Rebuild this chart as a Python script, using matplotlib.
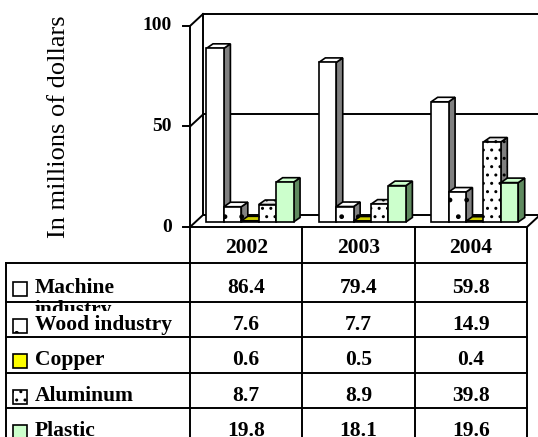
import matplotlib.pyplot as plt
from matplotlib.patches import Polygon, Rectangle
from matplotlib.transforms import Bbox, TransformedBbox

years = ['2002', '2003', '2004']
series = ['Machine industry', 'Wood industry', 'Copper', 'Aluminum', 'Plastic']
machine = [86.4, 79.4, 59.8]
wood = [7.6, 7.7, 14.9]
copper = [0.6, 0.5, 0.4]
aluminum = [8.7, 8.9, 39.8]
plastic = [19.8, 18.1, 19.6]
values = [machine, wood, copper, aluminum, plastic]
y_ticks = [0, 50, 100]

# look of each series: front, side, top, hatch
fronts = ['white', 'white', '#ffff00', 'white', '#ccffcc']
sides = ['#808080', '#808080', '#808000', '#808080', '#5f8a5f']
tops = ['white', 'white', '#cccc00', '#e6e6e6', '#ccffcc']
hatches = [None, '.', None, '..', None]

W, H = 538, 437
plt.rcParams['font.family'] = ['Liberation Serif', 'DejaVu Serif']
plt.rcParams['hatch.linewidth'] = 1.0

fig = plt.figure(figsize=(W / 100, H / 100), dpi=100)

# overlay in pixel units for the data table and labels
ov = fig.add_axes([0, 0, 1, 1])
ov.set_xlim(0, W)
ov.set_ylim(H, 0)
ov.axis('off')

# front plane of the 3-D plot
x0, x1 = 190, 527
y0, y100 = 227, 26
ax = fig.add_axes([x0 / W, (H - y0) / H, (x1 - x0) / W, (y0 - y100) / H])
ax.set_xlim(-0.5, len(years) - 0.5)
ax.set_ylim(0, 100)
ax.axis('off')

px_cat = (x1 - x0) / len(years)
px_val = (y0 - y100) / 100
# depth offsets in data units
back_dx, back_dy = 13 / px_cat, 12 / px_val
bar_dx, bar_dy = 6.5 / px_cat, 5 / px_val
side_dx, side_dy = 6.5 / px_cat, 4.5 / px_val

lk = dict(color='black', lw=1.4, clip_on=False, solid_capstyle='projecting')
xa, xb = -0.5, len(years) - 0.5

# back wall, gridline and floor
ax.plot([xa + back_dx, xb + back_dx + 0.2], [100 + back_dy] * 2, **lk)
ax.plot([xa + back_dx, xb + back_dx + 0.2], [50 + back_dy] * 2, **lk)
ax.plot([xa + back_dx, xb + back_dx + 0.2], [back_dy] * 2, **lk)
ax.plot([xa + back_dx] * 2, [back_dy, 100 + back_dy], **lk)
for t in y_ticks:
    ax.plot([xa, xa + back_dx], [t, t + back_dy], **lk)
ax.plot([xb, xb + back_dx], [0, back_dy], **lk)

# 3-D bars, left to right so each front covers the previous side
n = len(series)
bw = 0.155
g0 = -0.411
z = 3
for j in range(len(years)):
    for i in range(n):
        v = values[i][j]
        left = j + g0 + i * bw + bar_dx
        right = left + bw
        base = bar_dy
        top = base + v
        side = Polygon([(right, base), (right + side_dx, base + side_dy),
                        (right + side_dx, top + side_dy), (right, top)],
                       closed=True, facecolor=sides[i], edgecolor='black',
                       lw=1.2, hatch=hatches[i], zorder=z, clip_on=False)
        lid = Polygon([(left, top), (left + side_dx, top + side_dy),
                       (right + side_dx, top + side_dy), (right, top)],
                      closed=True, facecolor=tops[i], edgecolor='black',
                      lw=1.2, hatch=hatches[i], zorder=z, clip_on=False)
        ax.add_patch(side)
        ax.add_patch(lid)
        ax.bar(left, v, width=bw, bottom=base, align='edge',
               color=fronts[i], edgecolor='black', lw=1.2,
               hatch=hatches[i], zorder=z + 1, clip_on=False)
        z += 2

# front value axis with ticks
ax.plot([xa, xa], [0, 100], **lk)
for t in y_ticks:
    ax.plot([xa - 7 / px_cat, xa], [t, t], **lk)
    ax.text(xa - 18 / px_cat, t, str(t), ha='right', va='center',
            fontsize=14, fontweight='bold', clip_on=False)
ax.text(-0.5 - 131 / px_cat, 50, 'In millions of dollars', rotation=90,
        ha='center', va='center', fontsize=19, clip_on=False)

# data table
col_edges = [x0 + k * px_cat for k in range(len(years) + 1)]
row_edges = [263, 302, 337, 373, 408, 444]
tl = dict(color='black', lw=1.4, solid_capstyle='projecting')
ov.plot([x0, x1], [y0, y0], **tl)
for x in col_edges:
    ov.plot([x, x], [y0, H], **tl)
ov.plot([6, 6], [row_edges[0], H], **tl)
for y in row_edges[:-1]:
    ov.plot([6, x1], [y, y], **tl)

fs = 15.5
for k, yr in enumerate(years):
    ov.text((col_edges[k] + col_edges[k + 1]) / 2, 253, yr, ha='center',
            va='baseline', fontsize=fs, fontweight='bold')

for i, name in enumerate(series):
    base_y = row_edges[i] + 28
    if i == 0:
        base_y = row_edges[i] + 30
    ov.add_patch(Rectangle((13, base_y - 11), 14, 14, facecolor=fronts[i],
                           edgecolor='black', lw=1.2, hatch=hatches[i]))
    words = name.split(' ')
    if name == 'Machine industry':
        ov.text(35, base_y, words[0], ha='left', va='baseline',
                fontsize=fs, fontweight='bold')
        # second line runs into the next row and is cut there
        t2 = ov.text(35, base_y + 22, words[1], ha='left', va='baseline',
                     fontsize=fs, fontweight='bold')
        t2.set_clip_box(TransformedBbox(Bbox([[6, 263], [190, 311]]),
                                        ov.transData))
        t2.set_clip_on(True)
    else:
        ov.text(35, base_y, name, ha='left', va='baseline',
                fontsize=fs, fontweight='bold')
    for j in range(len(years)):
        ov.text((col_edges[j] + col_edges[j + 1]) / 2, base_y,
                f'{values[i][j]:.1f}', ha='center', va='baseline',
                fontsize=fs, fontweight='bold')

plt.savefig('out.png', dpi=100)
